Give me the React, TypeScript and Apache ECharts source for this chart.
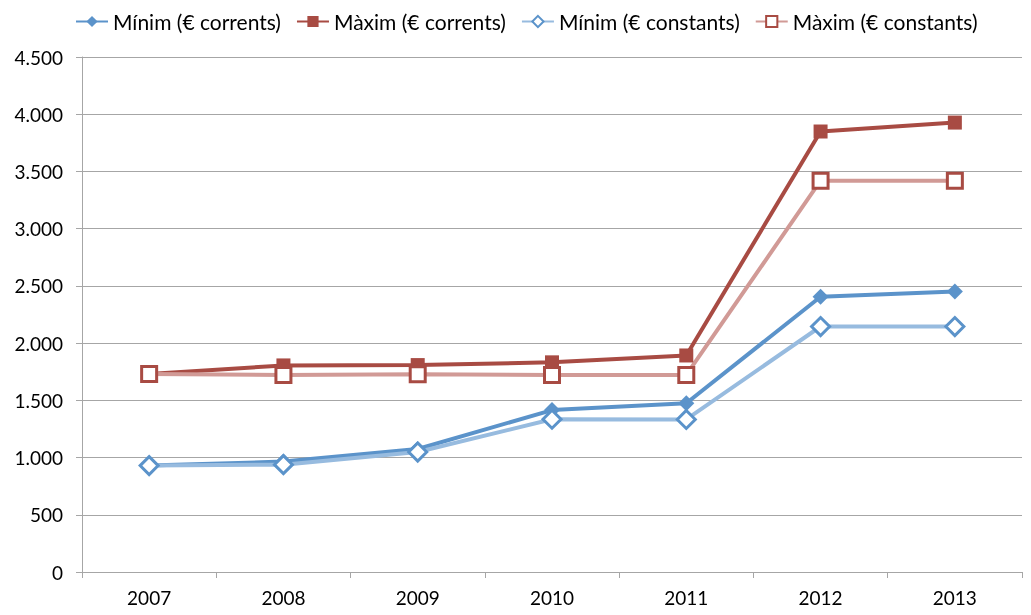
import React, { useEffect, useRef } from "react";
import * as echarts from "echarts";

const years = ["2007", "2008", "2009", "2010", "2011", "2012", "2013"];
const minCorrents = [930, 965, 1075, 1415, 1475, 2405, 2452];
const maxCorrents = [1730, 1805, 1808, 1832, 1892, 3849, 3927];
const minConstants = [930, 938, 1048, 1335, 1333, 2145, 2145];
const maxConstants = [1730, 1722, 1729, 1722, 1722, 3419, 3419];

const fmt = (v: number) => v.toLocaleString("de-DE");

export default function App() {
  const ref = useRef<HTMLDivElement>(null);
  useEffect(() => {
    if (!ref.current) return;
    const chart = echarts.init(ref.current, undefined, { renderer: "svg" });
    const font = "Lato, 'Open Sans', 'DejaVu Sans', sans-serif";
    chart.setOption({
      animation: false,
      textStyle: { fontFamily: font },
      legend: {
        top: 6,
        left: 70,
        itemGap: 15,
        itemWidth: 32,
        itemHeight: 14,
        textStyle: { fontSize: 21, color: "#000", fontFamily: font },
      },
      grid: { left: 82, right: 9, top: 57, bottom: 43 },
      xAxis: {
        type: "category",
        data: years,
        boundaryGap: true,
        axisLine: { lineStyle: { color: "#A6A6A6", width: 1 } },
        axisTick: { show: true, length: 6, lineStyle: { color: "#A6A6A6" } },
        axisLabel: { fontSize: 19, color: "#000", margin: 16 },
      },
      yAxis: {
        type: "value",
        min: 0,
        max: 4500,
        interval: 500,
        axisLine: { show: true, lineStyle: { color: "#A6A6A6" } },
        axisTick: { show: true, length: 6, lineStyle: { color: "#A6A6A6" } },
        axisLabel: { fontSize: 19, color: "#000", margin: 19, formatter: (v: number) => fmt(v) },
        splitLine: { lineStyle: { color: "#A6A6A6", width: 1 } },
      },
      series: [
        {
          name: "Mínim (€ corrents)",
          type: "line",
          data: minCorrents,
          symbol: "diamond",
          symbolSize: 16,
          lineStyle: { color: "#5B93CA", width: 4 },
          itemStyle: { color: "#5B93CA" },
        },
        {
          name: "Màxim (€ corrents)",
          type: "line",
          data: maxCorrents,
          symbol: "rect",
          symbolSize: 14,
          lineStyle: { color: "#A84B43", width: 4 },
          itemStyle: { color: "#A84B43" },
        },
        {
          name: "Mínim (€ constants)",
          type: "line",
          data: minConstants,
          symbol: "diamond",
          symbolSize: 18,
          lineStyle: { color: "#97BBDF", width: 4 },
          itemStyle: { color: "#FFFFFF", borderColor: "#5B93CA", borderWidth: 3 },
        },
        {
          name: "Màxim (€ constants)",
          type: "line",
          data: maxConstants,
          symbol: "rect",
          symbolSize: 15,
          lineStyle: { color: "#D19A96", width: 4 },
          itemStyle: { color: "#FFFFFF", borderColor: "#A84B43", borderWidth: 3 },
        },
      ],
    });
    return () => chart.dispose();
  }, []);
  return (
    <div
      ref={ref}
      style={{ position: "fixed", left: 0, top: 0, width: 1031, height: 615 }}
    />
  );
}
